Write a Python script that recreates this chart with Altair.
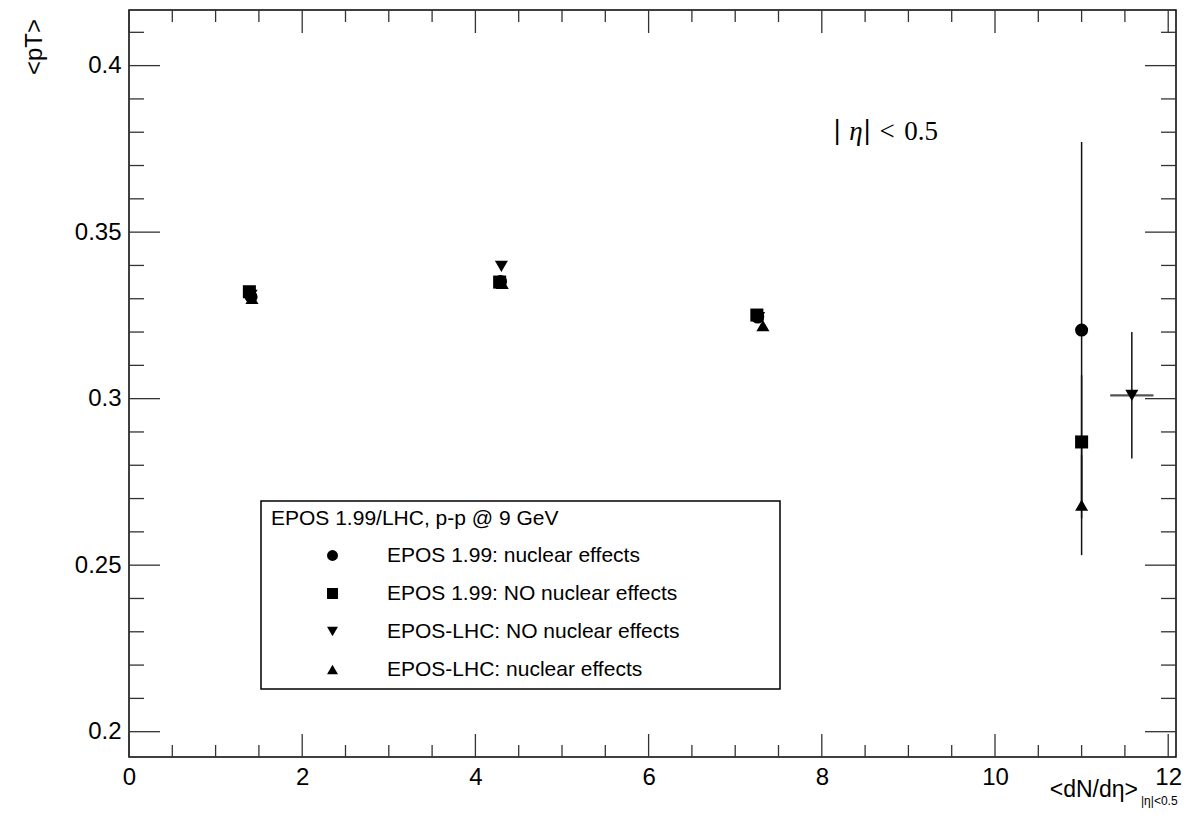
import altair as alt
import pandas as pd

# ---- data ----
series = ["EPOS 1.99: nuclear effects", "EPOS 1.99: NO nuclear effects",
          "EPOS-LHC: NO nuclear effects", "EPOS-LHC: nuclear effects"]
shapes = ["circle", "square", "triangle-down", "triangle-up"]

circ_x = [1.41, 4.29, 7.26, 11.0]
circ_y = [0.3306, 0.3352, 0.3245, 0.3206]
circ_err = [0.0005, 0.0005, 0.0005, 0.0565]

sq_x = [1.39, 4.28, 7.25, 11.0]
sq_y = [0.3321, 0.3350, 0.3251, 0.2870]
sq_err = [0.0006, 0.0006, 0.0006, 0.0200]

dn_x = [1.41, 4.30, 7.27, 11.58]
dn_y = [0.3310, 0.3397, 0.3243, 0.3010]
dn_err = [0.0005, 0.0005, 0.0005, 0.0190]
dn_xerr = [0.0, 0.0, 0.0, 0.25]

up_x = [1.42, 4.31, 7.32, 11.0]
up_y = [0.3301, 0.3346, 0.3219, 0.2680]
up_err = [0.0005, 0.0005, 0.0005, 0.0150]

x_major = [0, 2, 4, 6, 8, 10, 12]
x_minor = [0.5, 1, 1.5, 2.5, 3, 3.5, 4.5, 5, 5.5, 6.5, 7, 7.5,
           8.5, 9, 9.5, 10.5, 11, 11.5]
y_major = [0.20, 0.25, 0.30, 0.35, 0.40]
y_minor = [0.21, 0.22, 0.23, 0.24, 0.26, 0.27, 0.28, 0.29, 0.31, 0.32,
           0.33, 0.34, 0.36, 0.37, 0.38, 0.39, 0.41]

legend_title = "EPOS 1.99/LHC, p-p @ 9 GeV"

# ---- tables ----
rows = []
for name, xs_, ys_, es_, xe_ in [
    (series[0], circ_x, circ_y, circ_err, [0] * 4),
    (series[1], sq_x, sq_y, sq_err, [0] * 4),
    (series[2], dn_x, dn_y, dn_err, dn_xerr),
    (series[3], up_x, up_y, up_err, [0] * 4),
]:
    for xv, yv, ev, xev in zip(xs_, ys_, es_, xe_):
        rows.append(dict(series=name, x=xv, y=yv, lo=yv - ev, hi=yv + ev,
                         xlo=xv - xev, xhi=xv + xev, xerr=xev))
df = pd.DataFrame(rows)
df_xerr = df[df["xerr"] > 0]

W, H = 1047, 747
FONT = "Liberation Sans"

xs = alt.Scale(domain=[0, 12.09], nice=False, zero=False)
ys = alt.Scale(domain=[0.1924, 0.4167], nice=False, zero=False)

x_axis = alt.Axis(values=x_major, format="d", title=None, ticks=False, domain=False,
                  grid=False, labelFont=FONT, labelFontSize=24, labelColor="black",
                  labelPadding=8, labelFlush=False, labelOverlap=False)
y_axis = alt.Axis(values=y_major, format="~g", title=None, ticks=False, domain=False,
                  grid=False, labelFont=FONT, labelFontSize=24, labelColor="black",
                  labelPadding=8, labelOverlap=False)

base = alt.Chart(df)

err_v = base.mark_rule(color="#111111", strokeWidth=1.5).encode(
    x=alt.X("x:Q", scale=xs, axis=x_axis),
    y=alt.Y("lo:Q", scale=ys, axis=y_axis),
    y2="hi:Q",
)
err_h = alt.Chart(df_xerr).mark_rule(color="#555555", strokeWidth=2.2).encode(
    x=alt.X("xlo:Q", scale=xs), x2="xhi:Q", y=alt.Y("y:Q", scale=ys)
)

legend_box = alt.Chart(pd.DataFrame({"k": [0]})).mark_rect(
    fill="white", stroke="black", strokeWidth=1.5
).encode(x=alt.value(132), x2=alt.value(651), y=alt.value(491), y2=alt.value(679))

pts = base.mark_point(filled=True, size=170, opacity=1, color="black").encode(
    x=alt.X("x:Q", scale=xs),
    y=alt.Y("y:Q", scale=ys),
    shape=alt.Shape(
        "series:N",
        scale=alt.Scale(domain=series, range=shapes),
        legend=alt.Legend(
            title=legend_title, orient="none", legendX=142, legendY=498,
            titleFont=FONT, titleFontSize=21, titleFontWeight="normal",
            titleColor="black", titleLimit=600, titlePadding=16,
            labelFont=FONT, labelFontSize=21, labelColor="black", labelLimit=600,
            symbolOffset=51, labelOffset=44, rowPadding=16, symbolSize=120,
            symbolFillColor="black", symbolStrokeColor="black", padding=0,
        ),
    ),
)

# ---- inward ticks on all four sides ----
tk_ymaj = pd.DataFrame({"v": y_major})
tk_ymin = pd.DataFrame({"v": y_minor})
tk_xmaj = pd.DataFrame({"v": x_major})
tk_xmin = pd.DataFrame({"v": x_minor})
TC = "#333333"
ticks = []
for d, L in [(tk_ymaj, 31), (tk_ymin, 15)]:
    ticks.append(alt.Chart(d).mark_rule(color=TC, strokeWidth=1.3).encode(
        y=alt.Y("v:Q", scale=ys), x=alt.value(0), x2=alt.value(L)))
    ticks.append(alt.Chart(d).mark_rule(color=TC, strokeWidth=1.3).encode(
        y=alt.Y("v:Q", scale=ys), x=alt.value(W - L), x2=alt.value(W)))
for d, L in [(tk_xmaj, 23), (tk_xmin, 12)]:
    ticks.append(alt.Chart(d).mark_rule(color=TC, strokeWidth=1.3).encode(
        x=alt.X("v:Q", scale=xs), y=alt.value(H), y2=alt.value(H - L)))
    ticks.append(alt.Chart(d).mark_rule(color=TC, strokeWidth=1.3).encode(
        x=alt.X("v:Q", scale=xs), y=alt.value(0), y2=alt.value(L)))

one = pd.DataFrame({"k": [0]})


def txt(s, x, y, size, font=FONT, align="center", style="normal", angle=0):
    return alt.Chart(one).mark_text(
        font=font, fontSize=size, color="black", align=align, baseline="middle",
        fontStyle=style, angle=angle,
    ).encode(x=alt.value(x), y=alt.value(y), text=alt.value(s))


ytitle = txt("<pT>", -94, 37, 24, angle=270)
xtitle = txt("<dN/dη>", 1009, 780, 23, align="right")
xsub = txt("|η|<0.5", 1012, 791, 12, align="left")
SERIF = "Liberation Serif"
eta = [
    txt("|", 708, 121, 26, font="DejaVu Serif"),
    txt("η", 727, 122, 27, font=SERIF, style="italic"),
    txt("|", 738, 121, 26, font="DejaVu Serif"),
    txt("<", 758, 122, 27, font=SERIF),
    txt("0.5", 792, 122, 27, font=SERIF),
]

chart = alt.layer(
    err_v, err_h, *ticks, legend_box, pts, ytitle, xtitle, xsub, *eta
).properties(
    width=W, height=H,
    padding={"left": 121, "top": 2, "right": 6, "bottom": 54},
    autosize=alt.AutoSizeParams(type="none"),
    background="white",
).configure_view(stroke="black", strokeWidth=1.5)

chart.save("out.html", embed_options={"renderer": "svg", "actions": False})
